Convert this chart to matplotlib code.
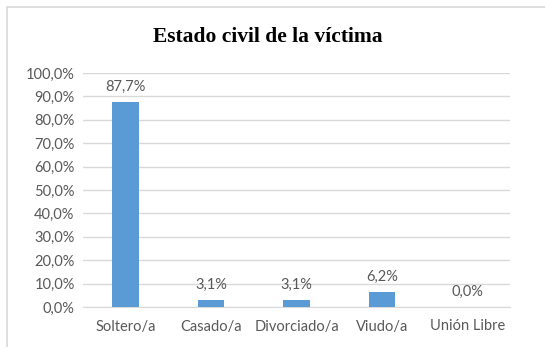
import matplotlib
matplotlib.use("Agg")
import matplotlib.pyplot as plt
from matplotlib.patches import Rectangle

categories = ["Soltero/a", "Casado/a", "Divorciado/a", "Viudo/a", "Unión Libre"]
values = [87.7, 3.1, 3.1, 6.2, 0.0]
yticks = [0, 10, 20, 30, 40, 50, 60, 70, 80, 90, 100]

W, H = 545, 347
fig = plt.figure(figsize=(W/100, H/100), dpi=100)
fig.patch.set_facecolor("white")

# chart border
fig.add_artist(Rectangle((7/W, -0.1), 1.2, (H-7)/H + 0.1, transform=fig.transFigure,
                         fill=False, edgecolor="#D9D9D9", linewidth=1.2))

left, right = 83/W, 510/W
bottom, top = 1 - 307/H, 1 - 73/H
ax = fig.add_axes([left, bottom, right-left, top-bottom])

txtc = "#595959"
font = "Lato"
x = list(range(len(categories)))
ax.bar(x, values, width=0.31, color="#5B9BD5", zorder=3)
for xi, v in zip(x, values):
    ax.text(xi, v + 3.5, f"{v:.1f}%".replace(".", ","), ha="center", va="bottom",
            fontsize=10.5, color=txtc, family=font)

ax.set_xlim(-0.5, len(categories) - 0.5)
ax.set_ylim(0, 100)
ax.set_yticks(yticks)
ax.set_yticklabels([f"{t:.1f}%".replace(".", ",") for t in yticks], fontsize=10.5,
                   color=txtc, family=font)
ax.set_xticks(x)
ax.set_xticklabels(categories, fontsize=10.5, color=txtc, family=font)
ax.tick_params(axis="both", length=0, pad=6)
ax.tick_params(axis="x", pad=9)
ax.grid(axis="y", color="#D9D9D9", linewidth=1, zorder=0)
for s in ["top", "right", "left"]:
    ax.spines[s].set_visible(False)
ax.spines["bottom"].set_color("#D9D9D9")

fig.text(267.5/W, 1 - 37/H, "Estado civil de la víctima", ha="center", va="center",
         fontsize=15.5, fontweight="bold", family="Liberation Serif", color="black")

fig.savefig("out.png", dpi=100)
